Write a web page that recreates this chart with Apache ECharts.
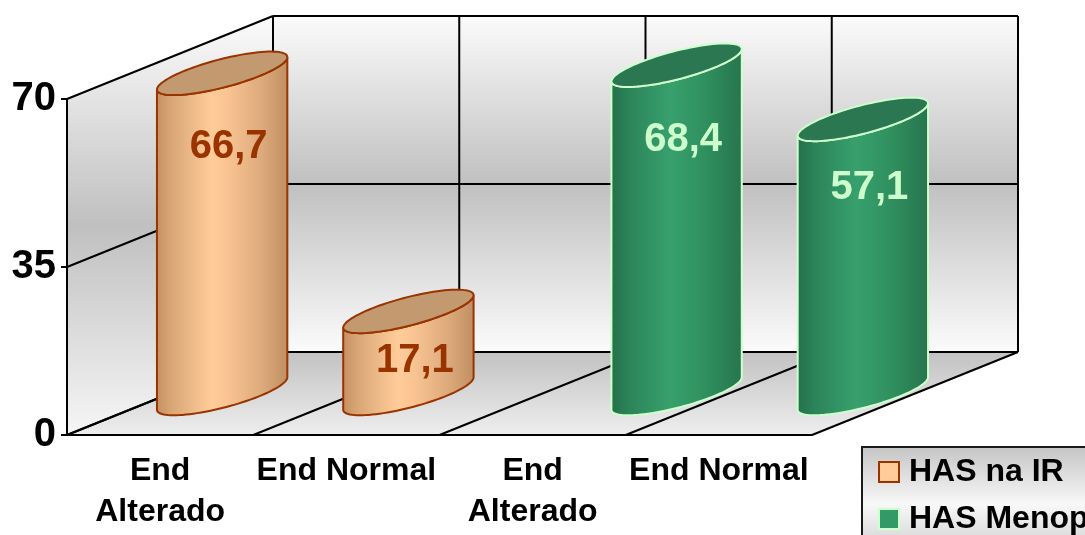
<!DOCTYPE html>
<html>
<head>
<meta charset="utf-8">
<script src="https://cdn.jsdelivr.net/npm/echarts@6/dist/echarts.min.js"></script>
<style>
  html, body { margin: 0; padding: 0; background: #ffffff; }
  #chart { width: 1085px; height: 535px; }
</style>
</head>
<body>
<div id="chart"></div>
<script>
// ---- data ----
const categories = ['End\nAlterado', 'End Normal', 'End\nAlterado', 'End Normal'];
const seriesNames = ['HAS na IR', 'HAS Menopausa'];
const hasNaIR = [66.7, 17.1, null, null];
const hasMenopausa = [null, null, 68.4, 57.1];
const yTicks = [0, 35, 70];

// ---- look ----
const FONT = '"Liberation Sans", Arial, Helvetica, sans-serif';
const DEPTH_X = 206;   // oblique depth of the box, in pixels
const DEPTH_Y = -83;

const palettes = [
  {
    fill: '#FFCC99', border: '#993300', top: '#C3996F', label: '#993300',
    body: [[0, '#C58F60'], [0.12, '#D9A777'], [0.42, '#FFCC99'], [0.55, '#F8C391'], [0.8, '#DDAA7C'], [1, '#BE8D61']]
  },
  {
    fill: '#339966', border: '#CCFFCC', top: '#2A7752', label: '#CCFFCC',
    body: [[0, '#246F4A'], [0.14, '#2C8459'], [0.45, '#37A06D'], [0.7, '#30915F'], [1, '#27744E']]
  }
];

const wallGradient = new echarts.graphic.LinearGradient(0, 0, 0, 1, [
  { offset: 0, color: '#FBFBFB' },
  { offset: 0.5, color: '#C0C0C0' },
  { offset: 1, color: '#FBFBFB' }
]);
const sideGradient = new echarts.graphic.LinearGradient(0, 0, 0, 1, [
  { offset: 0, color: '#FBFBFB' },
  { offset: 0.5, color: '#C0C0C0' },
  { offset: 1, color: '#F6F6F6' }
]);
const floorGradient = new echarts.graphic.LinearGradient(0, 0, 0, 1, [
  { offset: 0, color: '#C2C2C2' },
  { offset: 1, color: '#EEEEEE' }
]);

function toPairs(values) {
  const out = [];
  values.forEach((v, i) => { if (v != null) out.push([i, v]); });
  return out;
}

const fmt = v => String(v).replace('.', ',');

// Walls, floor and grid lines of the 3-D box
function renderFrame(params, api) {
  const cs = params.coordSys;
  const x0 = cs.x, x1 = cs.x + cs.width;
  const yAt = v => api.coord([0, v])[1];
  const yBot = yAt(yTicks[0]);
  const yTop = yAt(yTicks[yTicks.length - 1]);
  const dx = DEPTH_X, dy = DEPTH_Y;
  const line = (p, q) => ({
    type: 'line',
    shape: { x1: p[0], y1: p[1], x2: q[0], y2: q[1] },
    style: { stroke: '#000', lineWidth: 2 }
  });
  const children = [
    { type: 'polygon', shape: { points: [[x0, yTop], [x0 + dx, yTop + dy], [x0 + dx, yBot + dy], [x0, yBot]] }, style: { fill: sideGradient } },
    { type: 'rect', shape: { x: x0 + dx, y: yTop + dy, width: x1 - x0, height: yBot - yTop }, style: { fill: wallGradient } },
    { type: 'polygon', shape: { points: [[x0, yBot], [x1, yBot], [x1 + dx, yBot + dy], [x0 + dx, yBot + dy]] }, style: { fill: floorGradient } }
  ];
  yTicks.forEach(v => {
    const y = yAt(v);
    children.push(line([x0, y], [x0 + dx, y + dy]));
    children.push(line([x0 + dx, y + dy], [x1 + dx, y + dy]));
  });
  const n = categories.length;
  for (let i = 0; i <= n; i++) {
    const x = x0 + cs.width * i / n;
    children.push(line([x + dx, yTop + dy], [x + dx, yBot + dy]));
    children.push(line([x, yBot], [x + dx, yBot + dy]));
  }
  return { type: 'group', children };
}

// Oblique cylinder for one value
function cylinderRenderer(slot, pal) {
  return function (params, api) {
    const idx = api.value(0), v = api.value(1);
    const band = api.size([1, 0])[0];
    const base = api.coord([idx, 0]);
    const top = api.coord([idx, v]);
    const cx = base[0] + slot * band * 0.22 + DEPTH_X * 0.5;
    const by = base[1] + DEPTH_Y * 0.5;
    const ty = top[1] + DEPTH_Y * 0.5;
    const a = band * 0.35, s = -band * 0.087, h = band * 0.078;
    const pt = (cy, t) => [cx + a * Math.cos(t), cy + s * Math.cos(t) + h * Math.sin(t)];
    const N = 48;
    const body = [];
    for (let k = 0; k <= N; k++) body.push(pt(by, Math.PI * k / N));
    for (let k = N; k >= 0; k--) body.push(pt(ty, Math.PI * k / N));
    const cap = [];
    for (let k = 0; k < 2 * N; k++) cap.push(pt(ty, Math.PI * k / N));
    const bodyFill = new echarts.graphic.LinearGradient(0, 0, 1, 0,
      pal.body.map(p => ({ offset: p[0], color: p[1] })));
    const labelY = api.coord([idx, v * 0.9])[1];
    return {
      type: 'group',
      children: [
        { type: 'polygon', shape: { points: body }, style: { fill: bodyFill, stroke: pal.border, lineWidth: 2 } },
        { type: 'polygon', shape: { points: cap }, style: { fill: pal.top, stroke: pal.border, lineWidth: 2 } },
        {
          type: 'text', x: cx + band * 0.035, y: labelY,
          style: { text: fmt(v), fill: pal.label, font: 'bold 40px ' + FONT, align: 'center', verticalAlign: 'middle' }
        }
      ]
    };
  };
}

const chart = echarts.init(document.getElementById('chart'), null, { renderer: 'canvas' });

chart.setOption({
  backgroundColor: '#ffffff',
  animation: false,
  grid: { left: 67, right: 273, top: 99, bottom: 100 },
  legend: {
    type: 'plain',
    orient: 'vertical',
    left: 862,
    top: 447,
    width: 400,
    height: 200,
    selectedMode: false,
    icon: 'rect',
    itemWidth: 20,
    itemHeight: 20,
    itemGap: 11,
    padding: [7, 14, 14, 16],
    borderColor: '#1a1a1a',
    borderWidth: 2,
    backgroundColor: new echarts.graphic.LinearGradient(0, 0, 0, 1, [
      { offset: 0, color: '#C4C4C4' },
      { offset: 0.55, color: '#F8F8F8' },
      { offset: 1, color: '#D0D0D0' }
    ]),
    textStyle: { fontFamily: FONT, fontWeight: 'bold', fontSize: 32, lineHeight: 36, color: '#000', padding: [0, 0, 0, 5] },
    data: [
      { name: seriesNames[0], itemStyle: { color: palettes[0].fill, borderColor: palettes[0].border, borderWidth: 2 } },
      { name: seriesNames[1], itemStyle: { color: palettes[1].fill, borderColor: palettes[1].border, borderWidth: 2 } }
    ]
  },
  xAxis: {
    type: 'category',
    data: categories,
    boundaryGap: true,
    axisLine: { lineStyle: { color: '#000', width: 2 } },
    axisTick: { length: 6, lineStyle: { color: '#000', width: 2 } },
    axisLabel: {
      interval: 0, margin: 16, color: '#000', fontFamily: FONT, fontWeight: 'bold',
      fontSize: 32, lineHeight: 41, verticalAlign: 'top'
    },
    splitLine: { show: false }
  },
  yAxis: {
    type: 'value',
    min: 0,
    max: 70,
    interval: 35,
    axisLine: { show: true, lineStyle: { color: '#000', width: 2 } },
    axisTick: { show: true, length: 6, lineStyle: { color: '#000', width: 2 } },
    axisLabel: { margin: 11, color: '#000', fontFamily: FONT, fontWeight: 'bold', fontSize: 40 },
    splitLine: { show: false }
  },
  series: [
    {
      name: 'frame',
      type: 'custom',
      z: -1,
      clip: false,
      silent: true,
      renderItem: renderFrame,
      data: [[0, 0]]
    },
    {
      name: seriesNames[0],
      type: 'custom',
      z: 3,
      clip: false,
      itemStyle: { color: palettes[0].fill, borderColor: palettes[0].border },
      renderItem: cylinderRenderer(-1, palettes[0]),
      data: toPairs(hasNaIR)
    },
    {
      name: seriesNames[1],
      type: 'custom',
      z: 3,
      clip: false,
      itemStyle: { color: palettes[1].fill, borderColor: palettes[1].border },
      renderItem: cylinderRenderer(1, palettes[1]),
      data: toPairs(hasMenopausa)
    }
  ]
});
</script>
</body>
</html>
